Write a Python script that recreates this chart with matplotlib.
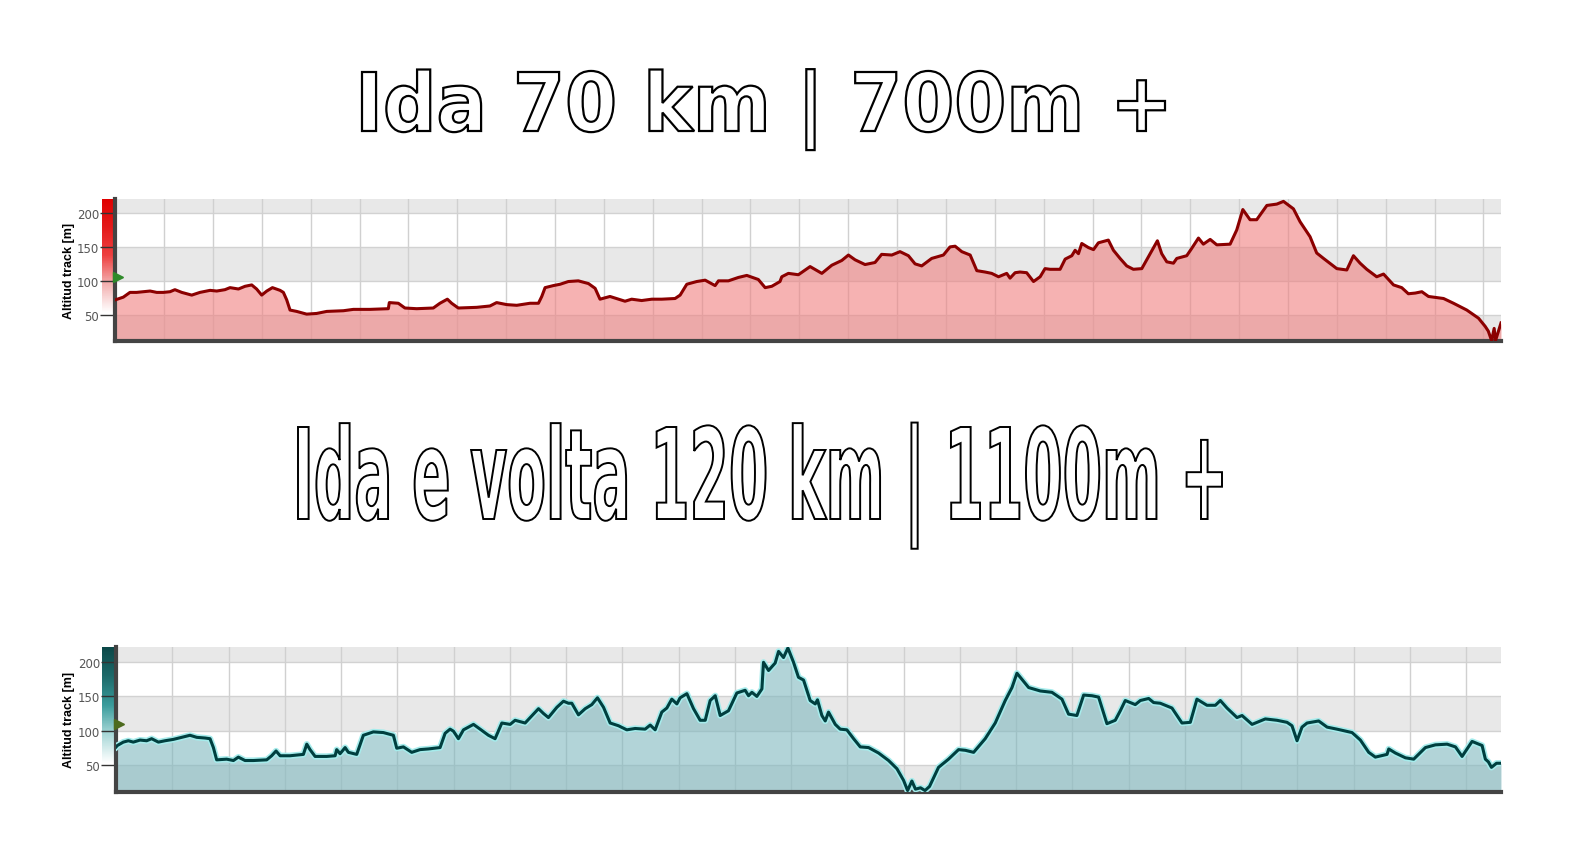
import matplotlib
matplotlib.use("Agg")
import matplotlib.pyplot as plt
import matplotlib.patheffects as pe
import numpy as np
from matplotlib.colors import LinearSegmentedColormap
from matplotlib.font_manager import FontProperties
from matplotlib.patches import PathPatch
from matplotlib.textpath import TextPath
from matplotlib.transforms import Affine2D

# titles
title_ida = "Ida 70 km | 700m +"
title_volta = "Ida e volta 120 km | 1100m +"
ylabel = "Altitud track [m]"
alt_ticks = [50, 100, 150, 200]

# profile "Ida" (distance km, altitude m)
ida_km = [0.0, 0.10, 0.41, 0.75, 1.09, 1.43, 1.78, 2.12, 2.46, 2.80, 3.05, 3.40, 3.91, 4.33, 4.85,
          5.19, 5.61, 5.87, 6.30, 6.64, 6.98, 7.23, 7.49, 7.75, 8.04, 8.43, 8.60, 8.77, 8.94, 9.28,
          9.79, 10.30, 10.82, 11.67, 12.18, 13.03, 13.97, 14.02, 14.48, 14.82, 15.42, 16.27, 16.61,
          16.99, 17.21, 17.55, 18.49, 19.17, 19.51, 20.03, 20.54, 21.22, 21.65, 21.82, 21.99, 22.41,
          22.76, 23.18, 23.69, 24.21, 24.55, 24.80, 25.31, 25.74, 26.08, 26.42, 26.93, 27.45, 27.96,
          28.64, 28.90, 29.24, 29.75, 30.18, 30.69, 30.86, 31.37, 31.88, 32.31, 32.90, 33.25, 33.59,
          34.01, 34.10, 34.44, 34.95, 35.55, 36.15, 36.66, 37.17, 37.51, 37.85, 38.36, 38.87, 39.21,
          39.73, 40.15, 40.58, 40.92, 41.26, 41.77, 42.37, 42.71, 42.97, 43.31, 43.74, 44.08, 44.50,
          44.84, 45.19, 45.61, 45.78, 46.04, 46.29, 46.63, 46.98, 47.32, 47.57, 47.83, 48.34, 48.60,
          48.94, 49.11, 49.28, 49.45, 49.79, 50.05, 50.30, 50.81, 51.07, 51.41, 51.75, 52.09, 52.52,
          52.95, 53.32, 53.54, 53.80, 54.14, 54.31, 54.82, 55.08, 55.42, 55.67, 56.02, 56.36, 57.04,
          57.38, 57.69, 58.06, 58.40, 58.92, 59.43, 59.77, 60.28, 60.62, 61.13, 61.47, 61.82, 62.50,
          63.01, 63.35, 63.69, 64.03, 64.54, 64.89, 65.40, 65.82, 66.16, 66.51, 66.85, 67.19, 67.96,
          68.47, 69.15, 69.75, 70.09, 70.25, 70.42, 70.55, 70.62, 70.90]
ida_alt = [72, 73, 76, 83, 83, 84, 85, 83, 83, 84, 87, 83, 79, 83, 86,
           85, 87, 90, 88, 92, 94, 88, 79, 85, 90, 86, 83, 72, 57, 55,
           51, 52, 55, 56, 58, 58, 59, 68, 67, 60, 59, 60, 67,
           73, 67, 60, 61, 63, 68, 65, 64, 67, 67, 77, 90, 93,
           95, 99, 100, 96, 89, 73, 77, 73, 70, 73, 71, 73, 73,
           74, 79, 95, 99, 101, 93, 100, 100, 105, 108, 102, 90, 92,
           99, 106, 111, 109, 121, 111, 123, 130, 138, 131, 124, 127, 139,
           138, 143, 137, 125, 122, 133, 138, 150, 151, 143, 138, 115, 113,
           111, 106, 111, 104, 112, 113, 112, 99, 106, 118, 117, 117, 132,
           137, 145, 140, 155, 149, 146, 156, 160, 145, 133, 122, 117, 118,
           140, 159, 140, 128, 126, 133, 137, 148, 163, 154, 161, 153, 154,
           175, 205, 190, 190, 211, 213, 217, 206, 187, 165, 141, 133, 118,
           116, 137, 126, 117, 106, 110, 94, 90, 81, 82, 84, 77, 74,
           67, 57, 45, 33, 26, 12, 30, 12, 38]

# profile "Ida e volta"
volta_km = [0.0, 0.10, 0.63, 1.08, 1.52, 2.12, 2.71, 3.15, 3.75, 4.34, 5.08, 5.82, 6.56, 7.16, 7.90,
            8.34, 8.64, 8.93, 9.82, 10.42, 10.86, 11.45, 12.19, 13.38, 13.82, 14.21, 14.57, 15.45,
            16.64, 16.94, 17.23, 17.68, 18.71, 19.46, 19.60, 19.90, 20.35, 20.64, 21.38, 21.97, 22.86,
            23.75, 24.64, 24.94, 25.53, 26.27, 27.01, 27.75, 28.79, 29.24, 29.68, 29.98, 30.42, 30.87,
            31.76, 32.35, 33.09, 33.68, 34.28, 35.02, 35.46, 36.35, 36.80, 37.54, 37.98, 38.42, 39.17,
            39.76, 40.20, 40.50, 41.09, 41.69, 42.28, 42.78, 43.32, 43.91, 44.65, 45.39, 46.13, 47.02,
            47.47, 47.91, 48.50, 48.95, 49.39, 49.84, 50.13, 50.73, 51.32, 51.91, 52.36, 52.80, 53.25,
            53.69, 54.43, 55.17, 55.91, 56.21, 56.51, 56.95, 57.40, 57.54, 57.99, 58.58, 58.88, 59.32,
            59.71, 60.21, 60.65, 61.10, 61.69, 62.14, 62.34, 62.73, 63.03, 63.32, 63.92, 64.36, 64.95,
            65.55, 66.14, 66.88, 67.77, 68.66, 69.40, 69.99, 70.35, 70.73, 71.05, 71.50, 71.90, 72.30,
            73.10, 73.99, 74.88, 75.48, 76.22, 77.25, 78.14, 79.03, 79.63, 80.07, 80.37, 81.11, 82.14,
            83.18, 84.07, 84.66, 85.40, 86.00, 86.74, 87.33, 88.07, 88.81, 89.26, 89.70, 90.59, 91.04,
            91.78, 92.22, 92.81, 93.85, 94.74, 95.48, 96.07, 96.96, 97.71, 98.15, 98.74, 99.63, 100.08,
            100.97, 102.15, 103.19, 104.08, 104.52, 104.97, 105.41, 105.86, 106.89, 107.64, 108.52,
            109.86, 110.60, 111.34, 111.93, 112.97, 113.12, 113.71, 114.60, 115.34, 116.38, 117.27,
            118.31, 119.05, 119.64, 120.53, 121.42, 121.71, 121.98, 122.25, 122.70, 123.10]
volta_alt = [76, 78, 83, 85, 83, 86, 85, 88, 83, 85, 87, 90, 93, 90, 89,
             88, 75, 57, 58, 56, 61, 56, 56, 57, 63, 70, 63, 63,
             65, 80, 72, 62, 62, 63, 72, 66, 75, 68, 65, 93, 98,
             97, 93, 74, 76, 68, 72, 73, 75, 96, 102, 99, 88, 101,
             109, 102, 93, 88, 111, 109, 115, 111, 119, 132, 125, 119, 134,
             143, 140, 140, 123, 132, 138, 148, 134, 111, 107, 101, 103, 102,
             108, 101, 127, 133, 146, 139, 148, 154, 132, 115, 115, 144, 151,
             122, 129, 155, 159, 151, 156, 150, 161, 200, 188, 199, 216, 207,
             221, 200, 178, 174, 144, 139, 145, 122, 114, 127, 109, 102, 101,
             88, 76, 75, 67, 56, 44, 27, 12, 26, 14, 16, 12, 18,
             46, 58, 72, 71, 68, 88, 111, 144, 163, 184, 178, 163, 158,
             156, 146, 124, 122, 152, 151, 149, 110, 115, 129, 144, 138, 144,
             147, 141, 140, 133, 111, 112, 146, 137, 137, 144, 133, 119, 122,
             109, 117, 115, 112, 107, 85, 105, 111, 114, 105, 102,
             97, 86, 68, 61, 65, 73, 67, 60, 58, 75, 79,
             80, 76, 62, 84, 78, 58, 54, 46, 52, 52]

W, H = 1588, 862
fig = plt.figure(figsize=(W / 100, H / 100), dpi=100)
fig.patch.set_facecolor("white")

# background axes in pixel coords for the outlined titles
bg = fig.add_axes([0, 0, 1, 1], zorder=0)
bg.set_xlim(0, W)
bg.set_ylim(H, 0)
bg.axis("off")


def outlined_title(text, family, left, right, cap_top, baseline, lw):
    fp = FontProperties(family=family, weight="bold")
    tp = TextPath((0, 0), text, size=100, prop=fp)
    cap = TextPath((0, 0), "I", size=100, prop=fp).get_extents()
    ext = tp.get_extents()
    sx = (right - left) / ext.width
    sy = (baseline - cap_top) / cap.y1
    tr = Affine2D().translate(-ext.x0, 0).scale(sx, -sy).translate(left, baseline)
    bg.add_patch(PathPatch(tr.transform_path(tp), facecolor="white",
                           edgecolor="black", lw=lw))


outlined_title(title_ida, "DejaVu Sans", 362, 1165, 73, 132, 1.6)
outlined_title(title_volta, "DejaVu Sans", 298, 1222, 428, 520, 1.4)


def profile(rect, km, alt, xmax, ylim, step, fill_c, line_c, grad_colors, flag_alt, flag_c, glow=None):
    left, bottom, width, height = rect
    # colour bar left of the axis
    gax = fig.add_axes([101.7 / W, bottom, 12.3 / W, height], zorder=1)
    cmap = LinearSegmentedColormap.from_list("g", grad_colors)
    gax.imshow(np.linspace(0, 1, 200).reshape(-1, 1), aspect="auto", cmap=cmap,
               extent=[0, 1, 0, 1], origin="lower")
    gax.axis("off")

    ax = fig.add_axes(rect, zorder=2)
    ax.patch.set_alpha(0)
    ax.set_xlim(0, xmax)
    ax.set_ylim(*ylim)
    # alternating bands
    ax.axhspan(ylim[0], 50, color="#e8e8e8", zorder=0, lw=0)
    ax.axhspan(100, 150, color="#e8e8e8", zorder=0, lw=0)
    ax.axhspan(200, ylim[1], color="#e8e8e8", zorder=0, lw=0)
    for t in alt_ticks:
        ax.axhline(t, color="#d2d2d2", lw=1, zorder=0.5)
    for gx in np.arange(step, xmax, step):
        ax.axvline(gx, color="#d0d0d0", lw=1, zorder=0.5)

    ax.fill_between(km, ylim[0], alt, color=fill_c, alpha=0.6, lw=0, zorder=1)
    effects = None
    if glow:
        effects = [pe.Stroke(linewidth=4.5, foreground=glow), pe.Normal()]
    ax.plot(km, alt, color=line_c, lw=2.2, zorder=3, path_effects=effects)
    ax.plot([xmax * 0.002], [flag_alt], marker=">", ms=7, color=flag_c, clip_on=False, zorder=4)

    for s in ["top", "right"]:
        ax.spines[s].set_visible(False)
    for s in ["left", "bottom"]:
        ax.spines[s].set_color("#444444")
        ax.spines[s].set_linewidth(3)
    ax.set_xticks([])
    ax.set_yticks(alt_ticks)
    ax.tick_params(axis="y", length=11, width=1, color="#333333", pad=0.5,
                   labelsize=8.5, labelcolor="#555555")
    fig.text(69 / W, bottom + height / 2, ylabel, rotation=90, ha="center", va="center",
             fontsize=9, fontweight="bold", family="Liberation Sans")
    return ax


profile([115.3 / W, 1 - 342.3 / H, (1501 - 115.3) / W, 142.3 / H],
        ida_km, ida_alt, 70.9, (11, 220.5), 2.5,
        "#f08080", "#8b0000",
        ["#ffffff", "#ffffff", "#f3b0b0", "#ee4040", "#e41a1a", "#e00000"],
        105, "#2f8a2a")

profile([116.2 / W, 1 - 792.7 / H, (1501 - 116.2) / W, 145 / H],
        volta_km, volta_alt, 123.1, (10.3, 222.9), 5,
        "#7fb8bf", "#003f3f",
        ["#ffffff", "#ffffff", "#a8d8d8", "#3a9c9c", "#1d6a6a", "#0c4848"],
        109, "#4d6b1e", glow="#a6ecec")

fig.savefig("out.png", dpi=100)
